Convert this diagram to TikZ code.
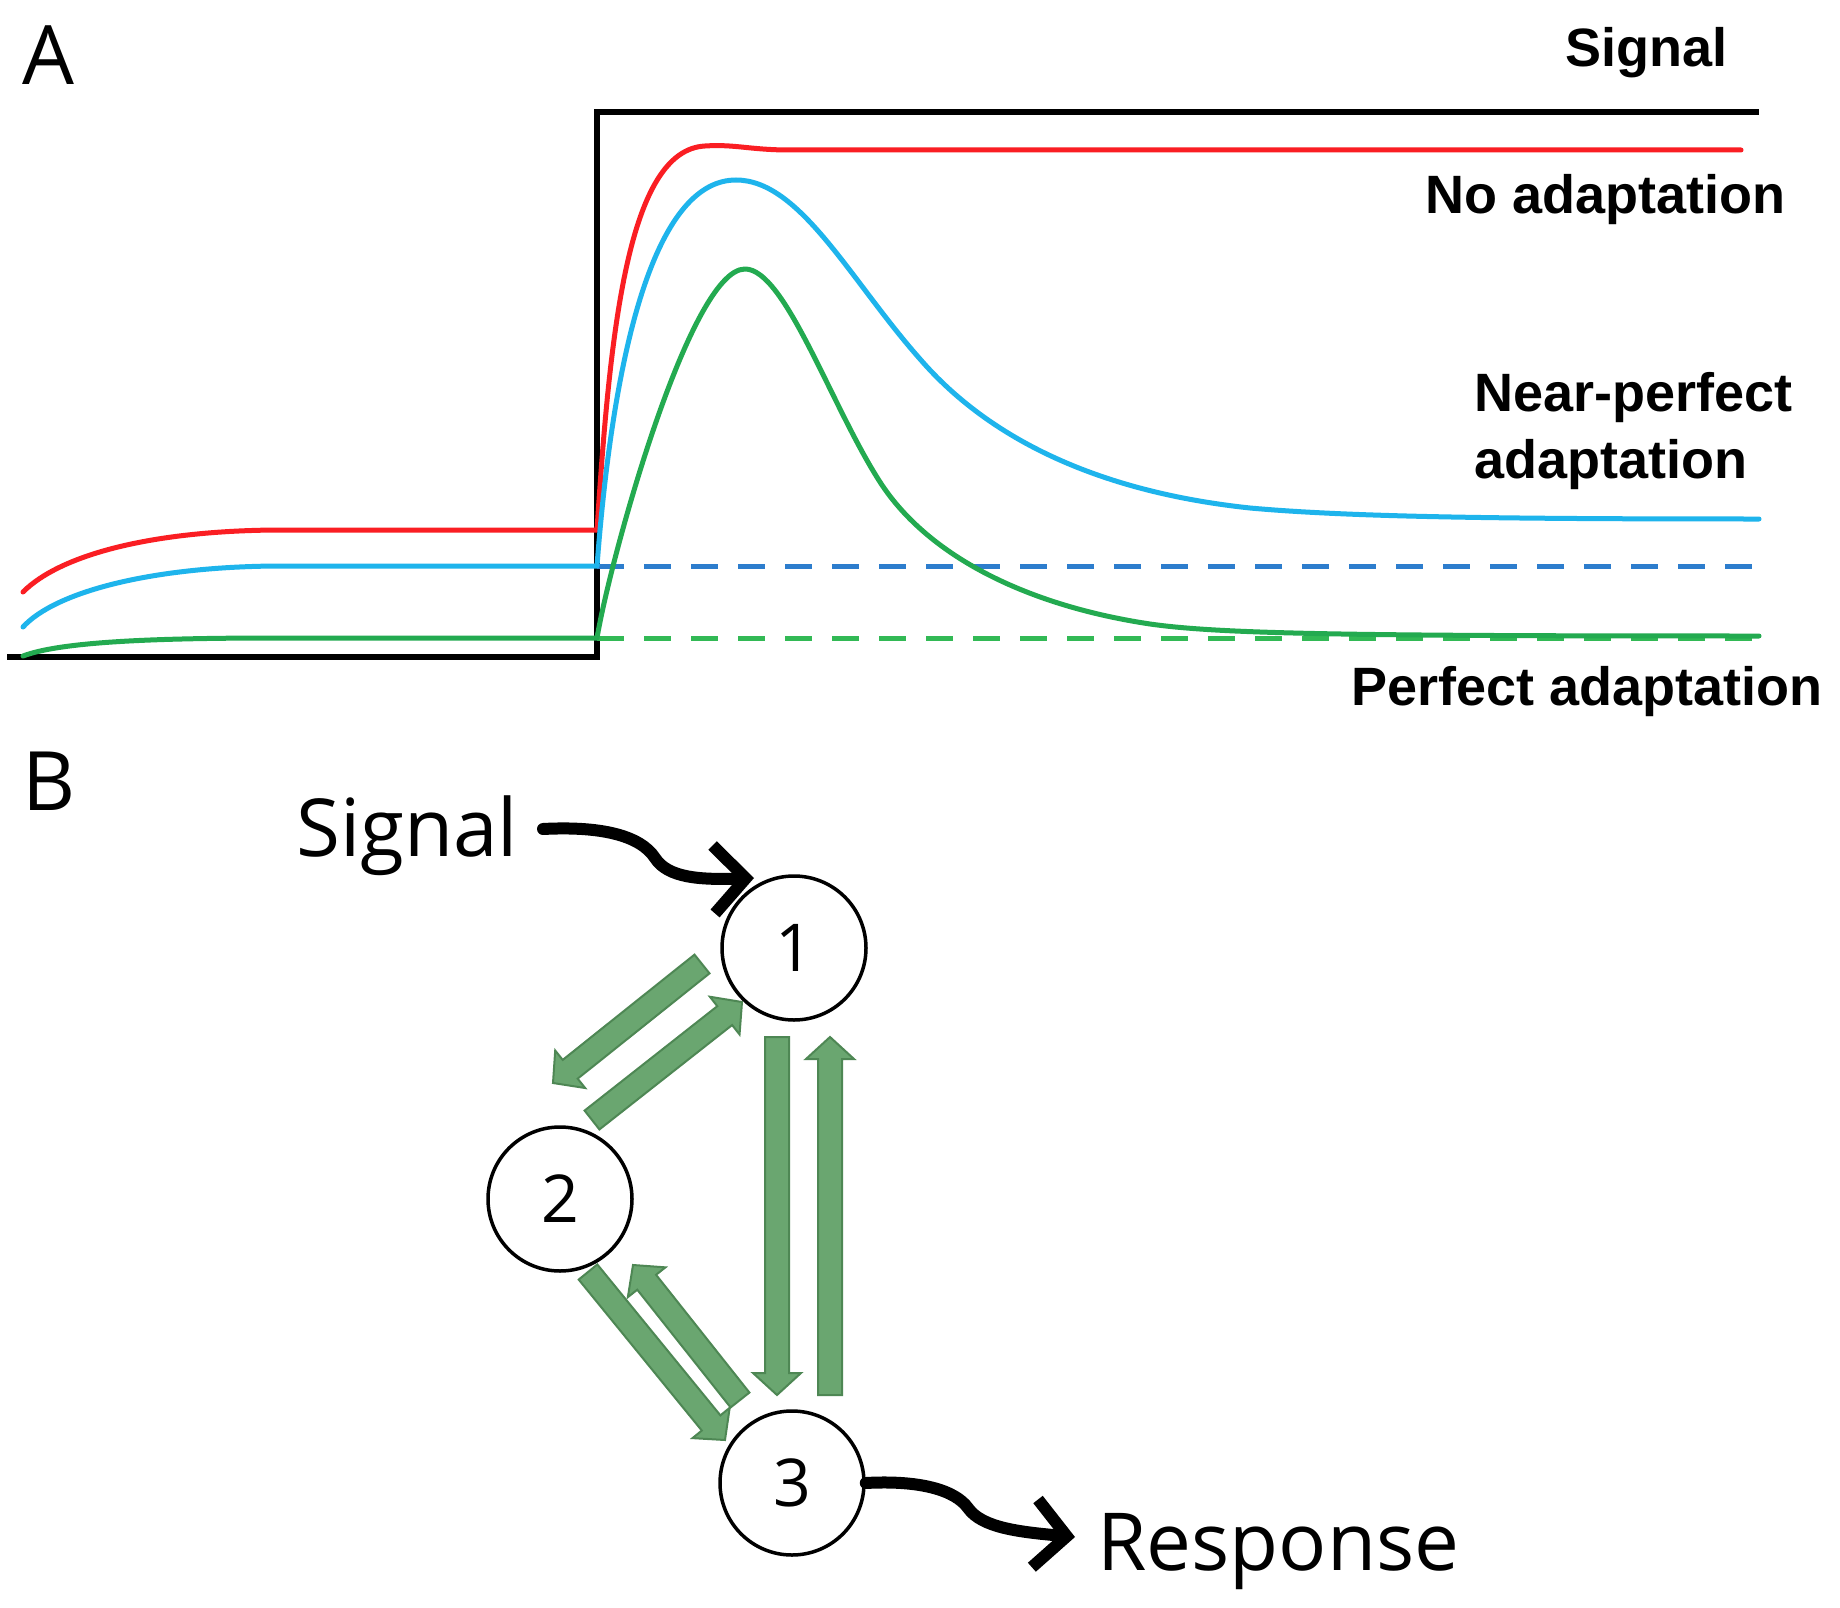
\documentclass[tikz,border=0pt]{standalone}
\usepackage{fontspec}
\setmainfont{Open Sans}
\newfontfamily\labfont{Liberation Sans}
\usetikzlibrary{calc,arrows.meta}
\definecolor{cred}{RGB}{250,30,35}
\definecolor{ccyan}{RGB}{30,180,236}
\definecolor{cgreen}{RGB}{35,170,80}
\definecolor{cdblue}{RGB}{45,125,205}
\definecolor{cdgreen}{RGB}{50,185,85}
\definecolor{gfill}{RGB}{106,166,112}
\definecolor{gline}{RGB}{78,135,84}
\newcommand\garr[2]{%
  \path ($(#2)!22pt!(#1)$) coordinate (gH);
  \filldraw[garrow] ($(#1)!12pt!90:(#2)$) -- ($(gH)!12pt!90:(#2)$) -- ($(gH)!24pt!90:(#2)$) -- (#2)
    -- ($(gH)!24pt!-90:(#2)$) -- ($(gH)!12pt!-90:(#2)$) -- ($(#1)!12pt!-90:(#2)$) -- cycle;}
\begin{document}
\begin{tikzpicture}[x=1pt,y=-1pt,
  curve/.style={line width=5pt,line cap=round,line join=round},
  dashline/.style={line width=5pt,dash pattern=on 27pt off 20pt},
  lbl/.style={anchor=base west,inner sep=0pt,font=\labfont\bfseries\fontsize{54}{60}\selectfont},
  panel/.style={anchor=base west,inner sep=0pt,font=\fontsize{82}{82}\selectfont},
  circ/.style={circle,draw,line width=3.5pt,minimum size=144pt,inner sep=0pt,font=\fontsize{66}{66}\selectfont},
  btext/.style={anchor=base west,inner sep=0pt,font=\fontsize{80}{80}\selectfont},
  blackarrow/.style={line width=12pt,line cap=round,-{Straight Barb[length=32pt,width=68pt]}},
  garrow/.style={fill=gfill,draw=gline,line width=2pt,line join=miter}]
\fill[white] (0,0) rectangle (1840,1608);
\useasboundingbox (0,0) rectangle (1840,1608);
% panel A
\node[panel] (labA) at (22,85) {A};
\draw[line width=6pt,line join=miter] (7,657) -- (597,657) -- (597,112) -- (1759,112);
\draw[dashline,cdblue] (597,566) -- (1768,566);
\draw[dashline,cdgreen] (597,638) -- (1768,638);
% no adaptation
\draw[curve,cred] (23,592) .. controls (60,555) and (150,531) .. (276,530) -- (597,530)
  .. controls (610,330) and (628,150) .. (705,146) .. controls (735,144) and (750,150) .. (790,150) -- (1741,150);
% near-perfect adaptation
\draw[curve,ccyan] (23,627) .. controls (55,592) and (150,567) .. (276,566) -- (597,566)
  .. controls (615,330) and (660,180) .. (736,180)
  .. controls (800,180) and (850,280) .. (920,359)
  .. controls (990,440) and (1100,492) .. (1250,508)
  .. controls (1350,517) and (1500,519) .. (1759,519);
% perfect adaptation
\draw[curve,cgreen] (23,656) .. controls (60,642) and (150,638) .. (276,638) -- (597,638)
  .. controls (610,560) and (690,269) .. (745,269)
  .. controls (785,269) and (831,406) .. (880,482)
  .. controls (929,558) and (1030,606) .. (1150,624)
  .. controls (1220,634) and (1350,636) .. (1759,636);
\node[lbl] (tsig) at (1565,67) {Signal};
\node[lbl] (tno) at (1425,214) {No adaptation};
\node[lbl] (tnear) at (1474,411) {Near-perfect};
\node[lbl] (tnear2) at (1474,478) {adaptation};
\node[lbl] (tperf) at (1351,705) {Perfect adaptation};
% panel B
\node[panel] (labB) at (22,810) {B};
\node[circ] (n1) at (794,948) {1};
\node[circ] (n2) at (560,1199) {2};
\node[circ] (n3) at (792,1483) {3};
\node[btext] (bsig) at (296,856) {Signal};
\node[btext] (bresp) at (1097,1570) {Response};
\coordinate (sstart) at (543,829);
\coordinate (stip) at ($(n1)+(-40,-70)$);
\coordinate (rtip) at (1075,1537);
\draw[blackarrow] (sstart) .. controls (600,826) and (640,835) .. (655,858) .. controls (668,878) and (700,880) .. (stip);
\draw[blackarrow] (n3.east) .. controls (920,1480) and (955,1490) .. (968,1508) .. controls (982,1528) and (1020,1532) .. (rtip);
% green arrows
\coordinate (a12t) at (702,964); \coordinate (a12h) at (553,1083);
\coordinate (a21t) at (592,1120); \coordinate (a21h) at (742,1002);
\coordinate (a13t) at (777,1037); \coordinate (a13h) at (777,1395);
\coordinate (a31t) at (830,1395); \coordinate (a31h) at (830,1037);
\coordinate (a23t) at (588,1272); \coordinate (a23h) at (725,1440);
\coordinate (a32t) at (740,1400); \coordinate (a32h) at (633,1265);
\garr{a12t}{a12h}
\garr{a21t}{a21h}
\garr{a13t}{a13h}
\garr{a31t}{a31h}
\garr{a23t}{a23h}
\garr{a32t}{a32h}
\end{tikzpicture}
\end{document}
